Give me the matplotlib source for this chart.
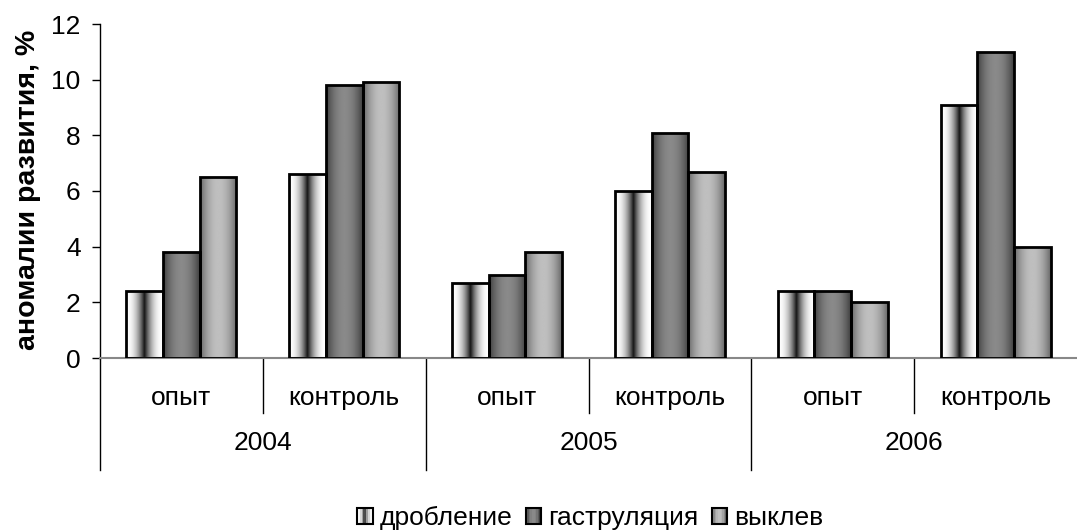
import numpy as np
import matplotlib
matplotlib.use('Agg')
import matplotlib.pyplot as plt
from matplotlib.patches import Rectangle
from matplotlib.legend_handler import HandlerBase
import matplotlib.transforms as mtransforms

plt.rcParams['font.family'] = ['Liberation Sans', 'DejaVu Sans']

# anomaly rates, % (per year: опыт, контроль)
years = ['2004', '2005', '2006']
groups = ['опыт', 'контроль', 'опыт', 'контроль', 'опыт', 'контроль']
series = ['дробление', 'гаструляция', 'выклев']
droblenie = [2.4, 6.6, 2.7, 6.0, 2.4, 9.1]
gastrulyaciya = [3.8, 9.8, 3.0, 8.1, 2.4, 11.0]
vyklev = [6.5, 9.9, 3.8, 6.7, 2.0, 4.0]
values = [droblenie, gastrulyaciya, vyklev]

# horizontal grey profiles used to shade each series
t = np.linspace(0, 1, 200)
d = np.abs(2 * t - 1)
profiles = [
    1 - 0.92 * (1 - d) ** 2.2,                  # white edges, dark core
    0.24 + 0.30 * (1 - d ** 2),                 # dark grey, lighter middle
    0.40 + 0.35 * (1 - d ** 2),                 # mid grey, light middle
]

FS = 19

fig = plt.figure(figsize=(10.77, 5.32), dpi=100)
ax = fig.add_axes([100 / 1077, 1 - 358 / 532, 977 / 1077, 334 / 532])

bw = 0.225
x = np.arange(len(groups)) + 0.5
for k, vals in enumerate(values):
    xs = x + (k - 1) * bw
    bars = ax.bar(xs, vals, width=bw, facecolor='none', edgecolor='black',
                  linewidth=2, zorder=3)
    img = profiles[k][np.newaxis, :]
    for b in bars:
        x0 = b.get_x()
        im = ax.imshow(img, extent=[x0, x0 + bw, 0, b.get_height()],
                       aspect='auto', cmap='gray', vmin=0, vmax=1,
                       interpolation='bilinear', zorder=2)
        im.set_clip_path(b)

ax.set_xlim(0, 6)
ax.set_ylim(0, 12)
ax.set_yticks(range(0, 13, 2))
ax.tick_params(axis='y', labelsize=FS, length=6, width=1, direction='out', pad=8)
ax.set_xticks([])
for s in ['top', 'right']:
    ax.spines[s].set_visible(False)
ax.spines['bottom'].set_color('#888888')
ax.spines['bottom'].set_linewidth(1.5)
ax.spines['left'].set_linewidth(1)

# two-level category axis
trans = mtransforms.blended_transform_factory(ax.transData, ax.transAxes)
ax.plot([0, 0], [0, -0.335], transform=trans, color='black', lw=1, clip_on=False)
for xb in [1, 3, 5]:
    ax.plot([xb, xb], [0, -0.165], transform=trans, color='black', lw=1, clip_on=False)
for xb in [2, 4]:
    ax.plot([xb, xb], [0, -0.335], transform=trans, color='black', lw=1, clip_on=False)
for xi, g in zip(x, groups):
    ax.text(xi, -0.12, g, transform=trans, ha='center', va='center', fontsize=FS)
for i, yr in enumerate(years):
    ax.text(2 * i + 1, -0.255, yr, transform=trans, ha='center', va='center', fontsize=FS)

fig.text(28 / 1077, 1 - 190 / 532, 'аномалии развития, %', rotation=90,
         ha='center', va='center', fontsize=20.5, fontweight='bold')


class GradientHandler(HandlerBase):
    def __init__(self, profile):
        super().__init__()
        self.profile = profile

    def create_artists(self, legend, orig_handle, xdescent, ydescent,
                       width, height, fontsize, trans):
        side = min(width, height)
        x0 = -xdescent + (width - side) / 2
        y0 = -ydescent + (height - side) / 2
        n = 10
        arts = []
        prof = self.profile[np.linspace(0, len(self.profile) - 1, n).astype(int)]
        for j, g in enumerate(prof):
            r = Rectangle((x0 + j * side / n, y0), side / n, side,
                          facecolor=str(g), edgecolor='none', transform=trans)
            arts.append(r)
        arts.append(Rectangle((x0, y0), side, side, facecolor='none',
                              edgecolor='black', lw=1.5, transform=trans))
        return arts


handles = [Rectangle((0, 0), 1, 1) for _ in series]
handler_map = {h: GradientHandler(p) for h, p in zip(handles, profiles)}
fig.legend(handles, series, loc='center', bbox_to_anchor=(0.548, 0.026),
           ncol=3, frameon=False, fontsize=FS, handler_map=handler_map,
           handlelength=0.58, handleheight=0.58, handletextpad=0.27,
           columnspacing=0.5)

fig.savefig('out.png', dpi=100)
